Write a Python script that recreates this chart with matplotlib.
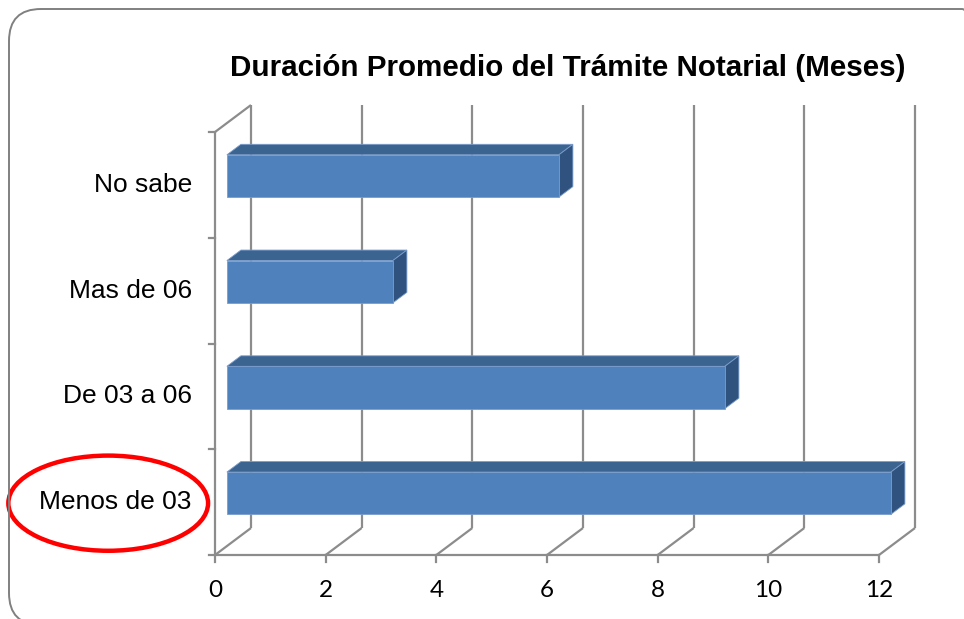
import matplotlib
matplotlib.use("Agg")
import matplotlib.pyplot as plt
import matplotlib.patches as patches
from matplotlib.patches import Polygon, Ellipse, FancyBboxPatch

# data (bottom to top)
categories = ["Menos de 03", "De 03 a 06", "Mas de 06", "No sabe"]
values = [12, 9, 3, 6]
x_ticks = [0, 2, 4, 6, 8, 10, 12]
title = "Duración Promedio del Trámite Notarial (Meses)"

# fake 3D: depth offset in data units (value, category) for full depth
DX, DY = 0.65, 0.255
Z0, Z1 = 0.33, 0.72        # bar front / back depth
BAR_H = 0.40
GRID = "#8c8c8c"

def proj(v, c, z):
    return (v + z * DX, c + z * DY)

fig = plt.figure(figsize=(9.64, 6.19), dpi=100)
ax = fig.add_axes([215 / 964, 64 / 619, 664 / 964, 423 / 619])
ax.set_xlim(0, 12)
ax.set_ylim(0, 4)
ax.axis("off")

def line(p, q, **kw):
    ax.plot([p[0], q[0]], [p[1], q[1]], color=GRID, lw=1.6,
            solid_capstyle="butt", clip_on=False, zorder=1, **kw)

ncat = len(categories)
# back wall gridlines + floor diagonals
for t in x_ticks:
    line(proj(t, 0, 1), proj(t, ncat, 1))
    line(proj(t, 0, 0), proj(t, 0, 1))
    # tick below floor
    ax.plot([t, t], [0, -0.065], color=GRID, lw=1.6, clip_on=False, zorder=1)
    ax.text(t, -0.335, str(t), ha="center", va="center", fontsize=17.5,
            family="Lato", color="black")

# floor front edge, left wall
line(proj(0, 0, 0), proj(12, 0, 0))
line(proj(0, 0, 0), proj(0, ncat, 0))
line(proj(0, ncat, 0), proj(0, ncat, 1))

for i in range(ncat + 1):
    ax.plot([0, -0.11], [i, i], color=GRID, lw=1.6, clip_on=False, zorder=1)

# bars
face, top, side = "#4F81BD", "#3C6491", "#30527E"
for i, (cat, v) in enumerate(zip(categories, values)):
    c0 = i + 0.5 - BAR_H / 2
    c1 = i + 0.5 + BAR_H / 2
    top_poly = [proj(0, c1, Z0), proj(v, c1, Z0), proj(v, c1, Z1), proj(0, c1, Z1)]
    side_poly = [proj(v, c0, Z0), proj(v, c0, Z1), proj(v, c1, Z1), proj(v, c1, Z0)]
    front_poly = [proj(0, c0, Z0), proj(v, c0, Z0), proj(v, c1, Z0), proj(0, c1, Z0)]
    for poly, col in [(top_poly, top), (side_poly, side), (front_poly, face)]:
        ax.add_patch(Polygon(poly, closed=True, facecolor=col, edgecolor="#7a9ccc",
                             lw=0.6, zorder=3, clip_on=False))
    ax.text(-0.42, i + 0.5, cat, ha="right", va="center", fontsize=19,
            family="Liberation Sans", color="black")

# red ellipse around "Menos de 03"
ax.add_patch(Ellipse((-1.93, 0.49), 3.61, 0.90, facecolor="none",
                     edgecolor="#ff0000", lw=3.2, clip_on=False, zorder=5))

fig.text(568 / 964, 1 - 68 / 619, title, ha="center", va="center",
         fontsize=21.3, fontweight="bold", family="Liberation Sans")

# rounded outer frame
frame = FancyBboxPatch((0.09, -0.06), 9.85, 6.16,
                       boxstyle="round,pad=0,rounding_size=0.32",
                       transform=fig.dpi_scale_trans, facecolor="none",
                       edgecolor="#808080", lw=1.4)
fig.patches.append(frame)

fig.savefig("out.png", dpi=100)
